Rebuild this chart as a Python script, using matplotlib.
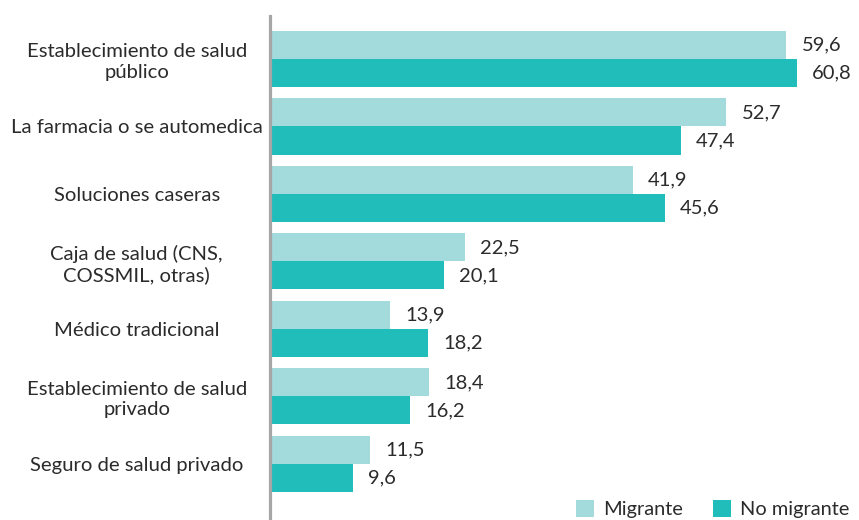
import matplotlib.pyplot as plt
import numpy as np

plt.rcParams['font.family'] = ['Lato', 'DejaVu Sans']

categorias = [
    "Establecimiento de salud\npúblico",
    "La farmacia o se automedica",
    "Soluciones caseras",
    "Caja de salud (CNS,\nCOSSMIL, otras)",
    "Médico tradicional",
    "Establecimiento de salud\nprivado",
    "Seguro de salud privado",
]
migrante = [59.6, 52.7, 41.9, 22.5, 13.9, 18.4, 11.5]
no_migrante = [60.8, 47.4, 45.6, 20.1, 18.2, 16.2, 9.6]

col_mig = '#a3dadb'
col_nomig = '#20bdbb'
texto = '#2b2b2b'

fig = plt.figure(figsize=(8.59, 5.20), dpi=100)
ax = fig.add_axes([270 / 859, 0, 1 - 270 / 859, 1 - 16 / 520])

y = np.arange(len(categorias))
h = 0.415
b1 = ax.barh(y - h / 2, migrante, height=h, color=col_mig, label='Migrante')
b2 = ax.barh(y + h / 2, no_migrante, height=h, color=col_nomig, label='No migrante')

for barras, vals in ((b1, migrante), (b2, no_migrante)):
    for barra, v in zip(barras, vals):
        ax.annotate(f"{v:.1f}".replace('.', ','),
                    (v, barra.get_y() + barra.get_height() / 2),
                    xytext=(11, 0), textcoords='offset points',
                    ha='left', va='center', fontsize=14.5, color=texto)

ax.set_xlim(0, 68)
ax.set_ylim(6.83, -0.637)
ax.set_xticks([])
ax.set_yticks(y)
ax.set_yticklabels(categorias, ha='center', multialignment='center',
                   fontsize=14.6, color=texto, linespacing=1.22)
ax.tick_params(axis='y', length=0, pad=96)

for s in ('top', 'right', 'bottom'):
    ax.spines[s].set_visible(False)
ax.spines['left'].set_color('#a6a6a6')
ax.spines['left'].set_linewidth(2.3)

fig.legend(handles=[b1, b2], loc='upper left', bbox_to_anchor=(576 / 859, 1 - 500 / 520),
           ncol=2, frameon=False, fontsize=14.4, handlelength=0.9, handleheight=0.9,
           handletextpad=0.45, columnspacing=1.5, borderaxespad=0, borderpad=0,
           labelcolor=texto)

fig.savefig('out.png', dpi=100)
